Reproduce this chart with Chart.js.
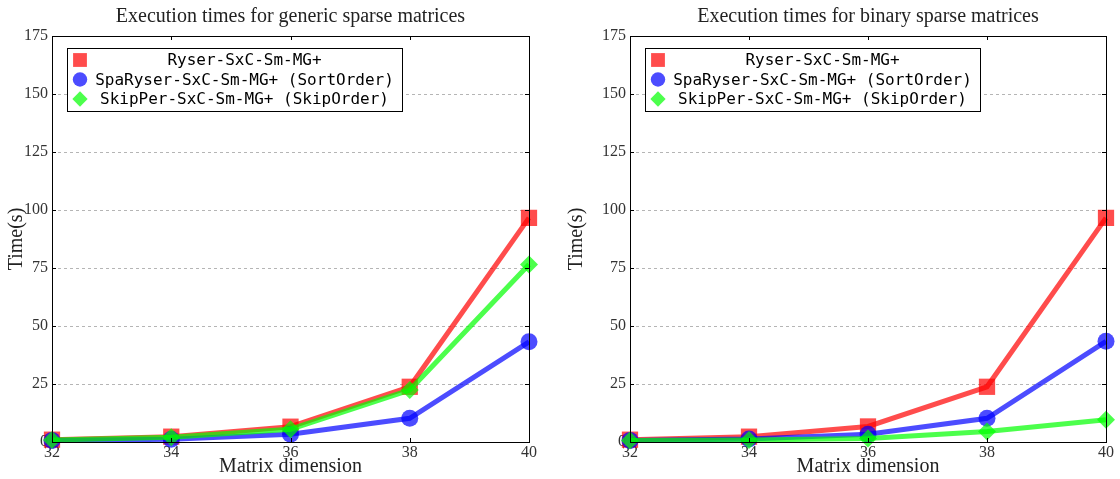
<!DOCTYPE html>
<html>
<head>
<meta charset="utf-8">
<script src="https://cdn.jsdelivr.net/npm/chart.js@4.4.1/dist/chart.umd.min.js"></script>
<style>
  body { margin: 0; background: #fff; }
  .row { display: flex; width: 1120px; height: 479px; }
  canvas { display: block; }
</style>
</head>
<body>
<div class="row">
  <canvas id="genericChart" width="560" height="479"></canvas>
  <canvas id="binaryChart" width="560" height="479"></canvas>
</div>
<script>
// matrix dimension on x, time in seconds on y
const dimensions = [32, 34, 36, 38, 40];
const seriesLabels = [
  "Ryser-SxC-Sm-MG+",
  "SpaRyser-SxC-Sm-MG+ (SortOrder)",
  "SkipPer-SxC-Sm-MG+ (SkipOrder)"
];

const ryserGeneric = [1.0, 2.3, 6.6, 23.8, 96.6];
const spaGeneric   = [0.7, 1.2, 3.3, 10.2, 43.2];
const skipGeneric  = [0.9, 2.0, 5.5, 22.4, 76.5];

const ryserBinary = [1.0, 2.3, 6.7, 23.8, 96.6];
const spaBinary   = [0.7, 1.3, 3.3, 10.2, 43.4];
const skipBinary  = [0.6, 0.9, 1.5, 4.5, 9.6];

const SERIF = "'Liberation Serif', 'Times New Roman', serif";
const MONO = "'DejaVu Sans Mono', 'Liberation Mono', monospace";

const styles = [
  { color: "rgba(255,0,0,0.7)", pointStyle: "rect", radius: 11.5, order: 3 },
  { color: "rgba(0,0,255,0.7)", pointStyle: "circle", radius: 8.5, order: 2 },
  { color: "rgba(0,255,0,0.7)", pointStyle: "rectRot", radius: 9, order: 1 }
];

function toPoints(values) {
  return dimensions.map((d, i) => ({ x: d, y: values[i] }));
}

// title centred over the axes, as in the original
const axesTitlePlugin = {
  id: "axesTitle",
  afterDraw(chart, args, opts) {
    const { ctx, chartArea: a } = chart;
    ctx.save();
    ctx.fillStyle = "#222";
    ctx.font = "20px " + SERIF;
    ctx.textAlign = "center";
    ctx.textBaseline = "middle";
    ctx.fillText(opts.text, (a.left + a.right) / 2, 17);
    ctx.restore();
  }
};

// box frame and inward tick marks
const framePlugin = {
  id: "frame",
  afterDatasetsDraw(chart) {
    const { ctx, chartArea: a, scales } = chart;
    ctx.save();
    ctx.strokeStyle = "#000";
    ctx.lineWidth = 1;
    ctx.beginPath();
    scales.x.ticks.forEach(t => {
      const px = Math.round(scales.x.getPixelForValue(t.value)) + 0.5;
      ctx.moveTo(px, a.bottom); ctx.lineTo(px, a.bottom - 4);
      ctx.moveTo(px, a.top); ctx.lineTo(px, a.top + 4);
    });
    scales.y.ticks.forEach(t => {
      const py = Math.round(scales.y.getPixelForValue(t.value)) + 0.5;
      ctx.moveTo(a.left, py); ctx.lineTo(a.left + 4, py);
      ctx.moveTo(a.right, py); ctx.lineTo(a.right - 4, py);
    });
    ctx.stroke();
    ctx.strokeRect(Math.round(a.left) + 0.5, Math.round(a.top) + 0.5,
      Math.round(a.right - a.left), Math.round(a.bottom - a.top));
    ctx.restore();
  }
};

// legend box in the upper left corner of the axes
const legendBoxPlugin = {
  id: "legendBox",
  afterDraw(chart) {
    const { ctx, chartArea: a } = chart;
    const left = Math.round(a.left) + 15.5;
    const top = Math.round(a.top) + 12.5;
    const w = 335, h = 63;
    ctx.save();
    ctx.fillStyle = "#fff";
    ctx.fillRect(left, top, w, h);
    ctx.strokeStyle = "#000";
    ctx.lineWidth = 1;
    ctx.strokeRect(left, top, w, h);
    chart.data.datasets.forEach((ds, i) => {
      const cy = top + 11.5 + i * 19.5;
      ctx.fillStyle = ds.backgroundColor;
      Chart.helpers.drawPoint(ctx, {
        pointStyle: ds.pointStyle,
        radius: ds.pointRadius * 0.85,
        rotation: 0,
        borderWidth: 0
      }, left + 12.5, cy);
      ctx.fillStyle = "#000";
      ctx.font = "16px " + MONO;
      ctx.textAlign = "center";
      ctx.textBaseline = "middle";
      ctx.fillText(ds.label, left + 177, cy + 1);
    });
    ctx.restore();
  }
};

function buildChart(id, title, series, yWidth, padRight) {
  return new Chart(document.getElementById(id), {
    type: "line",
    data: {
      datasets: series.map((values, i) => ({
        label: seriesLabels[i],
        data: toPoints(values),
        borderColor: styles[i].color,
        backgroundColor: styles[i].color,
        borderWidth: 5,
        pointStyle: styles[i].pointStyle,
        pointRadius: styles[i].radius,
        pointBorderWidth: 0,
        pointHoverRadius: styles[i].radius,
        order: styles[i].order,
        tension: 0,
        clip: false
      }))
    },
    options: {
      responsive: false,
      animation: false,
      events: [],
      layout: { padding: { top: 36, left: 0, right: padRight, bottom: 0 } },
      plugins: {
        legend: { display: false },
        tooltip: { enabled: false },
        title: { display: false },
        axesTitle: { text: title }
      },
      scales: {
        x: {
          type: "linear",
          min: 32,
          max: 40,
          afterFit(scale) { scale.height = 37; },
          ticks: {
            stepSize: 2,
            padding: 1,
            color: "#333",
            font: { family: SERIF, size: 16 }
          },
          grid: { display: false, drawTicks: false },
          border: { display: false },
          title: {
            display: true,
            text: "Matrix dimension",
            color: "#222",
            padding: 0,
            font: { family: SERIF, size: 20 }
          }
        },
        y: {
          min: 0,
          max: 175,
          afterFit(scale) { scale.width = yWidth; },
          ticks: {
            stepSize: 25,
            padding: 4,
            color: "#333",
            font: { family: SERIF, size: 16 }
          },
          grid: {
            color: "#b5b5b5",
            drawTicks: false,
            tickLength: 0
          },
          border: { display: false, dash: [3, 3] },
          title: {
            display: true,
            text: "Time(s)",
            color: "#222",
            padding: { top: 5, bottom: 0 },
            font: { family: SERIF, size: 20 }
          }
        }
      }
    },
    plugins: [framePlugin, legendBoxPlugin, axesTitlePlugin]
  });
}

buildChart("genericChart", "Execution times for generic sparse matrices",
  [ryserGeneric, spaGeneric, skipGeneric], 52, 31);
buildChart("binaryChart", "Execution times for binary sparse matrices",
  [ryserBinary, spaBinary, skipBinary], 70, 14);
</script>
</body>
</html>
